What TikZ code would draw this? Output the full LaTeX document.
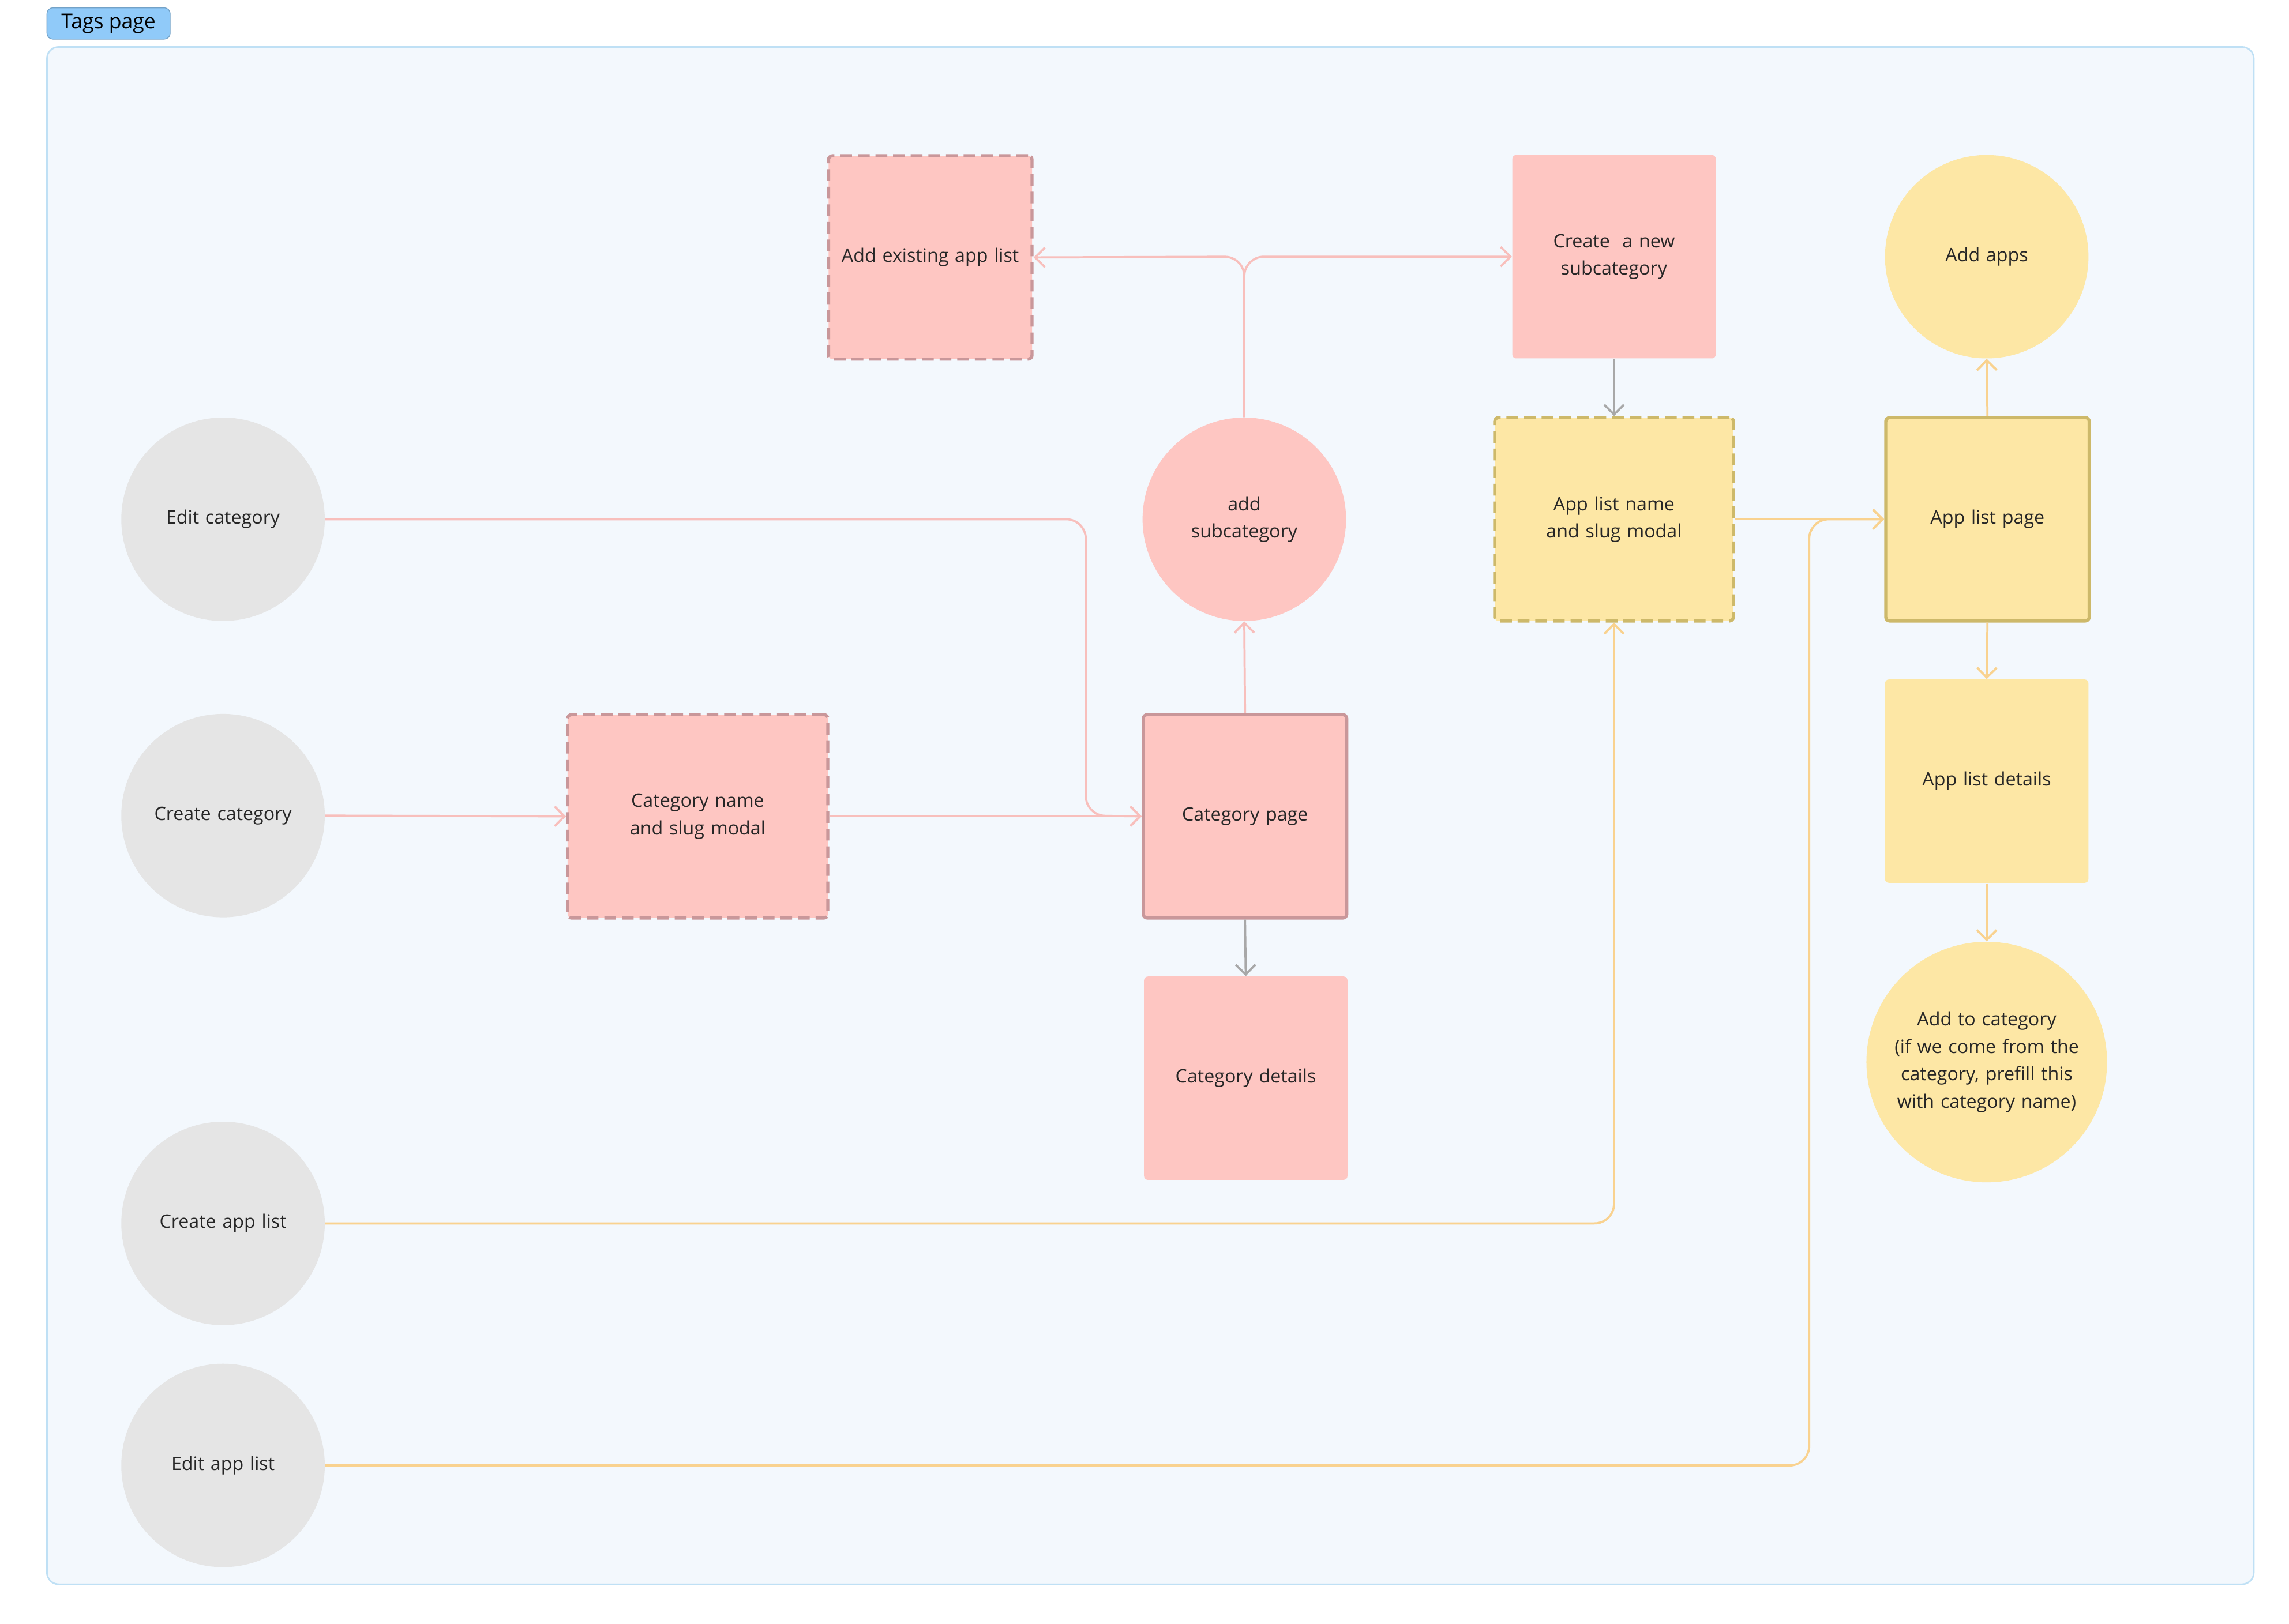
\documentclass[tikz,border=0pt]{standalone}
\usepackage{fontspec}
\setmainfont{Open Sans}
\usetikzlibrary{arrows.meta}
\definecolor{pinkfill}{HTML}{FEC6C2}
\definecolor{pinkline}{HTML}{F8BFBC}
\definecolor{pinkborder}{HTML}{C9979A}
\definecolor{yelfill}{HTML}{FDE7A5}
\definecolor{yelborder}{HTML}{CDB96A}
\definecolor{orline}{HTML}{F9D28F}
\definecolor{grayfill}{HTML}{E5E5E5}
\definecolor{grayline}{HTML}{A8A8A8}
\definecolor{framefill}{HTML}{F3F8FD}
\definecolor{frameline}{HTML}{BFE0F5}
\definecolor{tagfill}{HTML}{90CAF9}
\tikzset{
  txt/.style={font=\fontsize{9.5}{14}\selectfont, align=center, text=black!85},
  box/.style={txt, rectangle, rounded corners=2pt, minimum width=104pt, minimum height=104pt, text width=92pt, inner sep=0pt},
  circ/.style={txt, circle, minimum size=104pt, text width=80pt, inner sep=0pt},
  pinkbox/.style={box, fill=pinkfill},
  yelbox/.style={box, fill=yelfill},
  dashpink/.style={dash pattern=on 6pt off 3pt, draw=pinkborder, line width=1.6pt},
  dashyel/.style={dash pattern=on 6pt off 3pt, draw=yelborder, line width=1.6pt},
  link/.style={line width=1.1pt, rounded corners=10pt, -{Straight Barb[length=5pt,width=10pt]}},
}
\begin{document}
\begin{tikzpicture}[x=0.75pt,y=0.75pt,yscale=-1]
  \useasboundingbox (0,0) rectangle (1560,1107);
  % frame
  \draw [fill=framefill, draw=frameline, line width=0.8pt, rounded corners=6pt] (32,32) rectangle (1536,1080);
  \node [fill=tagfill, draw=tagfill!80!black, rounded corners=3pt, minimum width=63pt, minimum height=16pt, inner sep=0pt, font=\fontsize{10.5}{12}\selectfont] (tags) at (74,16) {Tags page};

  % grey starts
  \node [circ, fill=grayfill] (editcat) at (152,354) {Edit category};
  \node [circ, fill=grayfill] (createcat) at (152,556) {Create category};
  \node [circ, fill=grayfill] (createlist) at (152,834) {Create app list};
  \node [circ, fill=grayfill] (editlist) at (152,999) {Edit app list};

  % category side
  \node [pinkbox, dashpink, minimum width=133pt] (catmodal) at (475.5,556.5) {Category name and slug modal};
  \node [pinkbox, draw=pinkborder, line width=1.6pt] (catpage) at (848.5,556.5) {Category page};
  \node [pinkbox] (catdetails) at (849,735) {Category details};
  \node [circ, fill=pinkfill] (addsub) at (848,354) {add\\subcategory};
  \node [pinkbox, dashpink] (existing) at (634,175.5) {Add existing app list};
  \node [pinkbox] (newsub) at (1100,175) {Create\ \ a new subcategory};

  % app list side
  \node [yelbox, dashyel, minimum width=122pt, text width=106pt] (listmodal) at (1100,354) {App list name and slug modal};
  \node [yelbox, draw=yelborder, line width=1.6pt] (listpage) at (1354.5,354) {App list page};
  \node [circ, fill=yelfill] (addapps) at (1354,175) {Add apps};
  \node [yelbox] (listdetails) at (1354,532.5) {App list details};
  \node [circ, fill=yelfill, minimum size=123pt, text width=104pt] (addcat) at (1354,724) {Add to category\\(if we come from the category, prefill this with category name)};

  % pink links
  \draw [link, pinkline] (editcat.east) -- (740,354) -- (740,556) -- (catpage.west);
  \draw [link, pinkline] (createcat.east) -- (catmodal.west);
  \draw [link, pinkline] (catmodal.east) -- (catpage.west);
  \draw [link, pinkline] (catpage.north) -- (addsub.south);
  \draw [link, pinkline] (addsub.north) -- (848,175) -- (existing.east);
  \draw [link, pinkline] (addsub.north) -- (848,175) -- (newsub.west);
  % grey links
  \draw [link, grayline] (newsub.south) -- (listmodal.north);
  \draw [link, grayline] (catpage.south) -- (catdetails.north);
  % orange links
  \draw [link, orline] (createlist.east) -- (1100,834) -- (listmodal.south);
  \draw [link, orline] (editlist.east) -- (1233,999) -- (1233,354) -- (listpage.west);
  \draw [link, orline] (listmodal.east) -- (listpage.west);
  \draw [link, orline] (listpage.north) -- (addapps.south);
  \draw [link, orline] (listpage.south) -- (listdetails.north);
  \draw [link, orline] (listdetails.south) -- (addcat.north);
\end{tikzpicture}
\end{document}
